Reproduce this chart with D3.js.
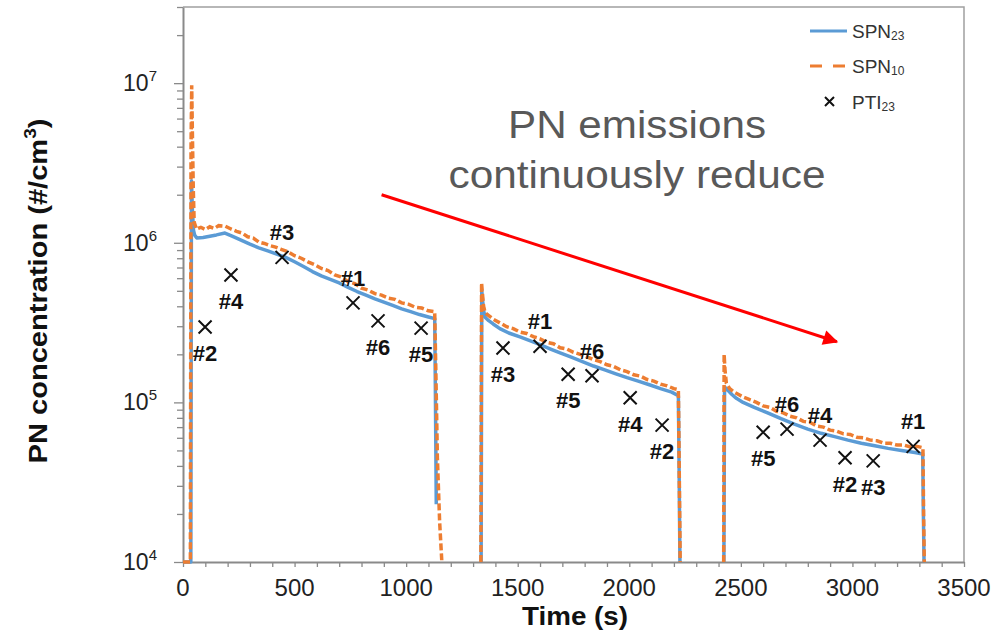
<!DOCTYPE html>
<html>
<head>
<meta charset="utf-8">
<script src="https://cdn.jsdelivr.net/npm/d3@7"></script>
<style>
  body { margin: 0; background: #fff; }
  svg { display: block; font-family: "Liberation Sans", Arial, sans-serif; }
</style>
</head>
<body>
<div id="chart"></div>
<script>
// SPN23 (blue, solid) - [time s, #/cm3], null breaks the line between cycles
var spn23 = [
  [0, 1e4], [35, 1e4], [38, 2.45e6], [42, 1.6e6], [47, 1.2e6], [52, 1.12e6], [62, 1.07e6],
  [90, 1.08e6], [120, 1.1e6], [150, 1.12e6], [188, 1.15e6], [220, 1.1e6], [260, 1.04e6],
  [300, 9.8e5], [340, 9.3e5], [380, 8.9e5], [420, 8.5e5], [460, 8.1e5], [500, 7.6e5],
  [540, 7.1e5], [580, 6.6e5], [620, 6.2e5], [660, 5.9e5], [700, 5.6e5], [740, 5.25e5],
  [780, 4.95e5], [820, 4.7e5], [860, 4.45e5], [900, 4.25e5], [940, 4.05e5], [980, 3.85e5],
  [1020, 3.7e5], [1060, 3.55e5], [1100, 3.43e5], [1128, 3.35e5], [1131, 1.2e5], [1135, 2.3e4],
  [1200, null],
  [1336, 1e4], [1339, 5.0e5], [1343, 4.3e5], [1348, 3.7e5], [1355, 3.4e5], [1370, 3.25e5],
  [1390, 3.1e5], [1420, 2.9e5], [1460, 2.72e5], [1510, 2.57e5], [1560, 2.42e5], [1600, 2.3e5],
  [1650, 2.15e5], [1690, 2.04e5], [1740, 1.92e5], [1790, 1.8e5], [1840, 1.69e5], [1890, 1.6e5],
  [1940, 1.51e5], [1990, 1.43e5], [2040, 1.36e5], [2090, 1.29e5], [2140, 1.22e5], [2190, 1.16e5],
  [2220, 1.1e5], [2224, 3e4], [2227, 1e4],
  [2300, null],
  [2424, 1e4], [2427, 1.25e5], [2440, 1.2e5], [2460, 1.12e5], [2480, 1.06e5], [2510, 1.0e5],
  [2560, 9.3e4], [2620, 8.6e4], [2680, 7.9e4], [2740, 7.3e4], [2800, 6.8e4], [2860, 6.4e4],
  [2920, 6.1e4], [2980, 5.8e4], [3040, 5.55e4], [3100, 5.35e4], [3160, 5.15e4], [3220, 5.0e4],
  [3280, 4.85e4], [3315, 4.75e4], [3318, 2e4], [3321, 1e4]
];

// SPN10 (orange, dashed)
var spn10 = [
  [0, 1e4], [33, 1e4], [36, 4e6], [39, 9.7e6], [42, 5e6], [46, 2.2e6], [50, 1.35e6], [60, 1.22e6],
  [80, 1.25e6], [100, 1.21e6], [120, 1.26e6], [140, 1.23e6], [160, 1.28e6], [190, 1.27e6],
  [215, 1.22e6], [240, 1.18e6], [265, 1.15e6], [290, 1.09e6], [315, 1.07e6], [340, 1.01e6],
  [365, 9.9e5], [390, 9.6e5], [415, 9.4e5], [440, 9.1e5], [470, 8.8e5], [500, 8.3e5],
  [530, 8.0e5], [560, 7.6e5], [590, 7.3e5], [620, 6.9e5], [650, 6.7e5], [680, 6.3e5],
  [710, 6.1e5], [740, 5.7e5], [770, 5.55e5], [800, 5.2e5], [830, 5.05e5], [860, 4.8e5],
  [890, 4.7e5], [920, 4.5e5], [950, 4.42e5], [980, 4.2e5], [1010, 4.12e5], [1040, 3.95e5],
  [1070, 3.9e5], [1100, 3.75e5], [1128, 3.7e5], [1133, 1.6e5], [1140, 4.5e4], [1150, 1.8e4],
  [1160, 1e4],
  [1200, null],
  [1335, 1e4], [1338, 5.6e5], [1342, 4.8e5], [1347, 4.0e5], [1354, 3.65e5], [1370, 3.5e5],
  [1390, 3.32e5], [1420, 3.15e5], [1450, 2.98e5], [1480, 2.9e5], [1510, 2.76e5], [1540, 2.7e5],
  [1570, 2.58e5], [1600, 2.5e5], [1630, 2.38e5], [1660, 2.33e5], [1690, 2.2e5], [1720, 2.16e5],
  [1750, 2.06e5], [1780, 2.0e5], [1810, 1.93e5], [1840, 1.85e5], [1870, 1.8e5], [1900, 1.72e5],
  [1930, 1.68e5], [1960, 1.6e5], [1990, 1.56e5], [2020, 1.49e5], [2050, 1.46e5], [2080, 1.39e5],
  [2110, 1.36e5], [2140, 1.3e5], [2170, 1.27e5], [2200, 1.22e5], [2220, 1.2e5], [2223, 5e4],
  [2228, 1e4],
  [2300, null],
  [2423, 1e4], [2425, 2.0e5], [2429, 1.6e5], [2435, 1.32e5], [2450, 1.22e5], [2470, 1.16e5],
  [2490, 1.12e5], [2510, 1.08e5], [2540, 1.04e5], [2570, 1.0e5], [2600, 9.5e4], [2630, 9.3e4],
  [2660, 8.8e4], [2690, 8.6e4], [2720, 8.2e4], [2750, 8.0e4], [2780, 7.6e4], [2810, 7.5e4],
  [2840, 7.1e4], [2870, 7.0e4], [2900, 6.7e4], [2930, 6.6e4], [2960, 6.35e4], [2990, 6.3e4],
  [3020, 6.05e4], [3050, 6.0e4], [3080, 5.8e4], [3110, 5.75e4], [3140, 5.55e4], [3170, 5.55e4],
  [3200, 5.4e4], [3230, 5.4e4], [3260, 5.25e4], [3290, 5.3e4], [3316, 5.2e4], [3319, 2e4],
  [3322, 1e4]
];

// PTI23 points
var ptiTime = [99, 215, 444, 762, 874, 1067, 1434, 1600, 1726, 1833, 2004, 2147, 2600, 2707, 2855, 2967, 3093, 3272];
var ptiValue = [2.97e5, 6.28e5, 8.1e5, 4.2e5, 3.24e5, 2.92e5, 2.19e5, 2.25e5, 1.5e5, 1.47e5, 1.07e5, 7.2e4, 6.5e4, 6.8e4, 5.8e4, 4.5e4, 4.3e4, 5.3e4];
var ptiLabel = ["#2", "#4", "#3", "#1", "#6", "#5", "#3", "#1", "#5", "#6", "#4", "#2", "#5", "#6", "#4", "#2", "#3", "#1"];

// axis ticks
var xMajorTicks = [0, 500, 1000, 1500, 2000, 2500, 3000, 3500];
var yMajorTicks = [1e4, 1e5, 1e6, 1e7];
var yTickExp = ["4", "5", "6", "7"];

// annotation arrow, in data units [time, value]
var arrowFrom = [890, 2.0e6];
var arrowTo = [2930, 2.4e5];

var width = 1006;
var height = 636;

var blue = "#5b9bd5";
var orange = "#ed7d31";
var axisGray = "#8a8a8a";

var x = d3.scaleLinear().domain([0, 3500]).range([183, 964]);
var y = d3.scaleLog().domain([1e4, 3e7]).range([562, 7]);

var svg = d3
  .select("#chart")
  .append("svg")
  .attr("width", width)
  .attr("height", height);

//frame on top and right

svg
  .append("path")
  .attr("d", "M" + x(0) + "," + y(3e7) + "H" + x(3500) + "V" + y(1e4))
  .attr("fill", "none")
  .attr("stroke", "#a0a0a0")
  .attr("stroke-width", 1.5);

//x axis: minor every 100 s, labels every 500 s

var xAxis = svg
  .append("g")
  .attr("transform", "translate(0," + y(1e4) + ")")
  .call(
    d3.axisBottom(x)
      .tickValues(d3.range(0, 3501, 100))
      .tickSize(5)
      .tickSizeOuter(0)
      .tickFormat("")
  );

xAxis.select(".domain").attr("stroke", axisGray).attr("stroke-width", 2);
xAxis.selectAll(".tick line").attr("stroke", axisGray).attr("stroke-width", 1.3);

svg
  .append("g")
  .selectAll("text")
  .data(xMajorTicks)
  .enter()
  .append("text")
  .attr("x", function(d) { return x(d); })
  .attr("y", 596)
  .attr("text-anchor", "middle")
  .attr("font-size", 24)
  .attr("fill", "#222")
  .text(function(d) { return d; });

//y axis: log, minor ticks 2..9 per decade

var yMinor = [];
[1e4, 1e5, 1e6, 1e7].forEach(function(base) {
  for (var k = 2; k <= 9; k++) {
    if (base * k <= 3e7) yMinor.push(base * k);
  }
});

var yAxisMinor = svg
  .append("g")
  .attr("transform", "translate(" + x(0) + ",0)")
  .call(d3.axisLeft(y).tickValues(yMinor).tickSize(6).tickSizeOuter(0).tickFormat(""));

var yAxisMajor = svg
  .append("g")
  .attr("transform", "translate(" + x(0) + ",0)")
  .call(d3.axisLeft(y).tickValues(yMajorTicks).tickSize(9).tickSizeOuter(0).tickFormat(""));

yAxisMinor.select(".domain").remove();
yAxisMajor.select(".domain").attr("stroke", axisGray).attr("stroke-width", 2);
svg.selectAll(".tick line").attr("stroke", axisGray).attr("stroke-width", 1.3);

var yLabels = svg
  .append("g")
  .selectAll("text")
  .data(yMajorTicks)
  .enter()
  .append("text")
  .attr("x", 157)
  .attr("y", function(d) { return y(d) + 8; })
  .attr("text-anchor", "end")
  .attr("fill", "#222");

yLabels.append("tspan").attr("font-size", 23).text("10");
yLabels
  .append("tspan")
  .attr("font-size", 15)
  .attr("dy", -10)
  .text(function(d, i) { return yTickExp[i]; });

//axis titles

svg
  .append("text")
  .attr("transform", "translate(47,291) rotate(-90)")
  .attr("text-anchor", "middle")
  .attr("font-size", 26)
  .attr("font-weight", "bold")
  .attr("fill", "#111")
  .attr("textLength", 345)
  .attr("lengthAdjust", "spacingAndGlyphs")
  .html('PN concentration (#/cm<tspan font-size="17" dy="-11">3</tspan><tspan dy="11">)</tspan>');

svg
  .append("text")
  .attr("x", 575)
  .attr("y", 625)
  .attr("text-anchor", "middle")
  .attr("font-size", 26)
  .attr("font-weight", "bold")
  .attr("fill", "#111")
  .attr("textLength", 106)
  .attr("lengthAdjust", "spacingAndGlyphs")
  .text("Time (s)");

//lines

var line = d3
  .line()
  .defined(function(d) { return d[1] != null; })
  .x(function(d) { return x(d[0]); })
  .y(function(d) { return y(d[1]); });

svg
  .append("path")
  .datum(spn23)
  .attr("d", line)
  .attr("fill", "none")
  .attr("stroke", blue)
  .attr("stroke-width", 3.5)
  .attr("stroke-linejoin", "round");

svg
  .append("path")
  .datum(spn10)
  .attr("d", line)
  .attr("fill", "none")
  .attr("stroke", orange)
  .attr("stroke-width", 3.5)
  .attr("stroke-dasharray", "7,3");

//PTI23 markers and labels

var labelBelow = [true, true, false, false, true, true, true, false, true, false, true, true, true, false, false, true, true, false];

var pti = svg
  .append("g")
  .selectAll("g")
  .data(ptiTime)
  .enter()
  .append("g")
  .attr("transform", function(d, i) {
    return "translate(" + x(d) + "," + y(ptiValue[i]) + ")";
  });

pti
  .append("path")
  .attr("d", "M-6.5,-6.5L6.5,6.5M-6.5,6.5L6.5,-6.5")
  .attr("stroke", "#111")
  .attr("stroke-width", 2);

pti
  .append("text")
  .attr("y", function(d, i) { return labelBelow[i] ? 34 : -17; })
  .attr("text-anchor", "middle")
  .attr("font-size", 22)
  .attr("font-weight", "bold")
  .attr("fill", "#111")
  .text(function(d, i) { return ptiLabel[i]; });

//legend

var legend = svg.append("g");

legend
  .append("line")
  .attr("x1", 810).attr("x2", 847).attr("y1", 31).attr("y2", 31)
  .attr("stroke", blue).attr("stroke-width", 3);

legend
  .append("line")
  .attr("x1", 810).attr("x2", 847).attr("y1", 66).attr("y2", 66)
  .attr("stroke", orange).attr("stroke-width", 3)
  .attr("stroke-dasharray", "12,11");

legend
  .append("path")
  .attr("d", "M825,97L834,106M825,106L834,97")
  .attr("stroke", "#111")
  .attr("stroke-width", 2);

var legendNames = [["SPN", "23"], ["SPN", "10"], ["PTI", "23"]];

legend
  .selectAll("text")
  .data(legendNames)
  .enter()
  .append("text")
  .attr("x", 852)
  .attr("y", function(d, i) { return [38, 73, 109][i]; })
  .attr("font-size", 19)
  .attr("fill", "#333")
  .each(function(d) {
    d3.select(this).append("tspan").text(d[0]);
    d3.select(this).append("tspan").attr("font-size", 12).attr("dy", 2).text(d[1]);
  });

//annotation

svg
  .append("text")
  .attr("x", 637)
  .attr("y", 138)
  .attr("text-anchor", "middle")
  .attr("font-size", 38)
  .attr("fill", "#595959")
  .attr("textLength", 258)
  .attr("lengthAdjust", "spacingAndGlyphs")
  .text("PN emissions");

svg
  .append("text")
  .attr("x", 637)
  .attr("y", 188)
  .attr("text-anchor", "middle")
  .attr("font-size", 38)
  .attr("fill", "#595959")
  .attr("textLength", 377)
  .attr("lengthAdjust", "spacingAndGlyphs")
  .text("continuously reduce");

svg
  .append("defs")
  .append("marker")
  .attr("id", "head")
  .attr("viewBox", "0 0 10 10")
  .attr("refX", 9)
  .attr("refY", 5)
  .attr("markerWidth", 6)
  .attr("markerHeight", 5)
  .attr("orient", "auto")
  .append("path")
  .attr("d", "M0,0L10,5L0,10Z")
  .attr("fill", "#ff0000");

svg
  .append("line")
  .attr("x1", x(arrowFrom[0]))
  .attr("y1", y(arrowFrom[1]))
  .attr("x2", x(arrowTo[0]))
  .attr("y2", y(arrowTo[1]))
  .attr("stroke", "#ff0000")
  .attr("stroke-width", 3)
  .attr("marker-end", "url(#head)");
</script>
</body>
</html>
